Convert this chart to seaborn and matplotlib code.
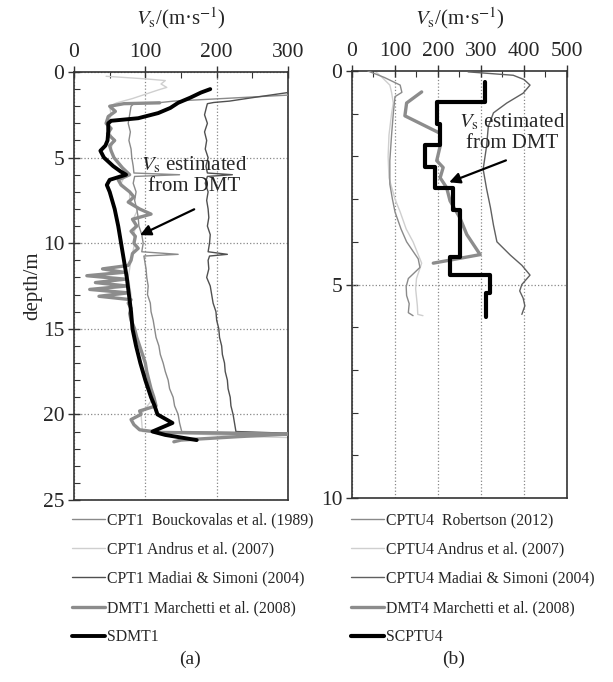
import numpy as np
import matplotlib
matplotlib.use("Agg")
import matplotlib.pyplot as plt
import seaborn as sns

# ---------------- data: panel (a) ----------------
b1_depth = [1.35, 1.7, 1.78, 1.85, 2.0, 2.5, 3.0, 3.5, 4.0, 4.5, 5.0, 5.5, 5.9, 6.0, 6.1, 6.5, 7.0,
            7.5, 8.0, 8.5, 9.0, 9.5, 10.0, 10.5, 10.65, 10.75, 11.0, 11.5, 12.0, 12.5, 13.0, 13.5,
            14.0, 14.5, 15.0, 15.5, 16.0, 16.5, 17.0, 17.5, 18.0, 18.5, 19.0, 19.5, 20.0, 20.5,
            21.0, 21.1, 21.2]
b1_vs = [300, 140, 122, 84, 80, 78, 76, 79, 77, 80, 81, 83, 84, 148, 85, 83, 87, 85, 88, 90, 91,
         95, 97, 95, 146, 98, 99, 101, 102, 104, 103, 107, 108, 111, 113, 115, 119, 121, 125, 128,
         132, 134, 139, 141, 146, 148, 151, 300, 300]

a1_depth = [0.25, 0.4, 0.5, 0.7, 0.9, 1.05, 1.3, 1.55, 1.8, 2.0, 2.5, 3.0, 3.5, 4.0, 4.5, 5.0,
            5.5, 6.0, 6.5, 7.0, 7.5, 8.0, 8.5, 9.0, 9.5, 10.0, 11.0, 12.0, 13.0, 14.0, 15.0, 16.0,
            17.0, 18.0, 19.0, 20.0, 21.0, 21.3, 21.35]
a1_vs = [45, 100, 128, 122, 130, 118, 100, 82, 60, 50, 52, 48, 50, 55, 52, 56, 66, 72, 66, 78,
         78, 90, 84, 86, 84, 85, 80, 76, 80, 80, 85, 92, 100, 105, 112, 94, 96, 250, 300]

m1_depth = [1.2, 1.5, 1.7, 1.78, 1.85, 2.0, 2.5, 3.0, 3.5, 4.0, 4.5, 5.0, 5.5, 5.9, 6.0, 6.1,
            6.5, 7.0, 7.5, 8.0, 8.5, 9.0, 9.5, 10.0, 10.5, 10.65, 10.75, 11.0, 11.5, 12.0, 12.5,
            13.0, 13.5, 14.0, 14.5, 15.0, 15.5, 16.0, 16.5, 17.0, 17.5, 18.0, 18.5, 19.0, 19.5,
            20.0, 20.5, 21.0, 21.1, 21.2]
m1_vs = [300, 250, 218, 196, 187, 186, 183, 187, 183, 186, 184, 188, 185, 187, 222, 187, 184,
         188, 186, 188, 189, 187, 191, 190, 188, 215, 190, 188, 189, 186, 191, 193, 195, 199,
         200, 203, 204, 207, 208, 211, 212, 215, 216, 219, 220, 223, 225, 227, 300, 300]

d1_depth = [1.8, 1.85, 2.0, 2.3, 2.6, 3.0, 3.3, 3.6, 4.0, 4.3, 4.6, 5.0, 5.3, 5.6, 6.0, 6.3, 6.6,
            7.0, 7.3, 7.6, 8.0, 8.3, 8.6, 9.0, 9.3, 9.6, 10.0, 10.3, 10.6, 11.0, 11.3, 11.5, 11.7,
            11.9, 12.1, 12.3, 12.5, 12.7, 12.9, 13.1, 13.3, 13.5, 13.8, 14.1, 14.5, 15.0, 15.5,
            16.0, 16.5, 17.0, 17.5, 18.0, 18.5, 19.0, 19.5, 19.8, 20.0, 20.3, 20.6, 20.9, 21.05,
            21.15, 21.3, 21.5, 21.6]
d1_vs = [120, 70, 50, 58, 48, 45, 52, 47, 57, 50, 52, 56, 62, 68, 78, 62, 66, 78, 84, 76, 92, 108,
         82, 88, 80, 86, 84, 90, 82, 80, 76, 40, 70, 18, 72, 30, 74, 22, 76, 35, 80, 76, 80, 78,
         80, 85, 88, 92, 96, 100, 102, 105, 108, 112, 115, 92, 94, 80, 84, 92, 120, 300, 230,
         150, 140]

s1_depth = [1.0, 1.2, 1.5, 1.8, 2.1, 2.4, 2.7, 2.85, 3.0, 3.5, 4.0, 4.3, 4.6, 5.0, 5.5, 5.8, 6.0,
            6.3, 6.6, 7.0, 8.0, 9.0, 10.0, 11.0, 12.0, 13.0, 14.0, 15.0, 16.0, 17.0, 18.0, 19.0,
            19.5, 20.0, 20.5, 21.0, 21.2, 21.5]
s1_vs = [191, 178, 163, 146, 135, 118, 90, 52, 48, 48, 47, 44, 37, 42, 55, 65, 73, 50, 46, 50, 57,
         62, 66, 70, 74, 77, 80, 82, 87, 93, 100, 108, 113, 117, 138, 110, 128, 172]

# ---------------- data: panel (b) ----------------
r4_depth = [0.0, 0.15, 0.33, 0.5, 0.6, 1.0, 1.5, 2.1, 2.65, 3.0, 3.3, 3.7, 4.0, 4.4, 4.6, 4.86,
            5.05, 5.26, 5.45, 5.66, 5.73]
r4_vs = [37, 75, 112, 116, 100, 96, 92, 88, 88, 94, 100, 114, 127, 154, 158, 131, 126, 127,
         133, 131, 142]

a4_depth = [0.0, 0.15, 0.33, 0.5, 0.75, 1.0, 1.5, 2.0, 2.5, 3.0, 3.3, 3.7, 4.0, 4.5, 4.86, 5.1,
            5.3, 5.5, 5.7, 5.73]
a4_vs = [53, 70, 88, 92, 96, 92, 86, 84, 86, 100, 112, 126, 142, 162, 150, 148, 150, 152, 153,
         165]

m4_depth = [0.02, 0.1, 0.2, 0.33, 0.52, 0.75, 0.98, 1.3, 1.76, 2.3, 2.76, 3.2, 3.61, 4.0, 4.31,
            4.55, 4.78, 5.0, 5.15, 5.32, 5.5, 5.7]
m4_vs = [270, 375, 400, 414, 398, 360, 329, 317, 313, 305, 313, 322, 329, 337, 368, 395, 414,
         395, 390, 398, 402, 395]

d4_depth = [0.49, 0.75, 1.05, 1.46, 1.76, 2.1, 2.26, 2.5, 2.73, 3.04, 3.44, 3.83, 4.3, 4.5]
d4_vs = [162, 127, 123, 205, 205, 197, 212, 205, 220, 228, 251, 267, 298, 189]

sc_top = [0.25, 0.72, 1.23, 1.73, 2.24, 2.75, 3.26, 4.35, 4.78, 5.21]
sc_bot = [0.72, 1.23, 1.73, 2.24, 2.75, 3.26, 4.35, 4.78, 5.21, 5.75]
sc_vs = [309, 197, 205, 170, 193, 236, 251, 228, 321, 312]

labels_a = ["CPT1  Bouckovalas et al. (1989)", "CPT1 Andrus et al. (2007)",
            "CPT1 Madiai & Simoni (2004)", "DMT1 Marchetti et al. (2008)", "SDMT1"]
labels_b = ["CPTU4  Robertson (2012)", "CPTU4 Andrus et al. (2007)",
            "CPTU4 Madiai & Simoni (2004)", "DMT4 Marchetti et al. (2008)", "SCPTU4"]

# ---------------- style ----------------
sns.set_theme(style="ticks")
plt.rcParams["font.family"] = ["Liberation Serif", "DejaVu Serif"]
plt.rcParams["mathtext.fontset"] = "stix"

fig = plt.figure(figsize=(6.13, 6.82), dpi=100)
ax1 = fig.add_axes([74 / 613, 1 - 500 / 682, 214 / 613, 428 / 682])
ax2 = fig.add_axes([352 / 613, 1 - 498 / 682, 215 / 613, 427 / 682])

def line(ax, x, y, color, lw, label, z):
    sns.lineplot(x=x, y=y, sort=False, estimator=None, ax=ax, color=color, lw=lw,
                 label=label, zorder=z, legend=False)

line(ax1, a1_vs, a1_depth, "#cfcfcf", 1.0, labels_a[1], 2)
line(ax1, b1_vs, b1_depth, "#8a8a8a", 1.0, labels_a[0], 3)
line(ax1, m1_vs, m1_depth, "#505050", 1.0, labels_a[2], 3)
line(ax1, d1_vs, d1_depth, "#8c8c8c", 2.4, labels_a[3], 4)
line(ax1, s1_vs, s1_depth, "black", 2.8, labels_a[4], 5)

step_d = np.ravel(np.column_stack([sc_top, sc_bot]))
step_v = np.repeat(sc_vs, 2)
line(ax2, a4_vs, a4_depth, "#cfcfcf", 1.0, labels_b[1], 2)
line(ax2, r4_vs, r4_depth, "#8a8a8a", 1.0, labels_b[0], 3)
line(ax2, m4_vs, m4_depth, "#606060", 1.0, labels_b[2], 3)
line(ax2, d4_vs, d4_depth, "#8c8c8c", 2.4, labels_b[3], 4)
line(ax2, step_v, step_d, "black", 3.0, labels_b[4], 5)

xlabel = r"$V_{\rm s}$/(m·s$^{-1}$)"
for ax, xmax, ymax, xt, yt in [(ax1, 300, 25, [0, 100, 200, 300], [0, 5, 10, 15, 20, 25]),
                               (ax2, 500, 10, [0, 100, 200, 300, 400, 500], [0, 5, 10])]:
    ax.set_xlim(0, xmax)
    ax.set_ylim(ymax, 0)
    ax.xaxis.tick_top()
    ax.set_xticks(xt)
    ax.set_yticks(yt)
    ax.set_xticks(np.arange(0, xmax + 1, 50), minor=True)
    ax.set_yticks(np.arange(0, ymax + 1, 1), minor=True)
    ax.tick_params(which="major", direction="inout", length=8, width=1, color="#333333",
                   labelsize=15.5, pad=3, top=True, bottom=False, left=True, right=False)
    ax.tick_params(which="minor", direction="in", length=4, width=0.8, color="#333333",
                   top=True, bottom=False, left=True, right=False)
    ax.grid(True, which="major", ls=":", color="#888888", lw=0.9)
    for sp in ax.spines.values():
        sp.set_color("#333333")
        sp.set_linewidth(1.2)
        sp.set_visible(True)
    ax.set_xlabel(xlabel, fontsize=15)
    ax.xaxis.set_label_position("top")
    ax.set_ylabel("")

ax1.xaxis.set_label_coords(0.5, 1 + (72 - 24) / 428)
ax2.xaxis.set_label_coords(0.5, 1 + (71 - 24) / 427)
ax2.grid(False, axis="y")
ax2.axhline(5, ls=":", color="#888888", lw=0.9, zorder=1)

ax1.set_ylabel("depth/m", fontsize=15, labelpad=0)

# annotations
ax1.text(168, 6.05, "$V_{\\rm s}$ estimated\nfrom DMT", ha="center", va="center", fontsize=15,
         linespacing=1.15, zorder=6)
ax1.annotate("", xy=(89, 9.6), xytext=(172, 7.95),
             arrowprops=dict(arrowstyle="-|>", color="black", lw=1.6, mutation_scale=16), zorder=6)
ax2.text(372, 1.44, "$V_{\\rm s}$ estimated\nfrom DMT", ha="center", va="center", fontsize=15,
         linespacing=1.15, zorder=6)
ax2.annotate("", xy=(220, 2.63), xytext=(364, 2.07),
             arrowprops=dict(arrowstyle="-|>", color="black", lw=1.6, mutation_scale=16), zorder=6)

# legends
for ax, labels, x0 in [(ax1, labels_a, 72 / 613), (ax2, labels_b, 351 / 613)]:
    h, l = ax.get_legend_handles_labels()
    order = [l.index(t) for t in labels]
    ax.legend([h[i] for i in order], [l[i] for i in order], loc="upper left",
              bbox_to_anchor=(x0, 1 - 512 / 682), bbox_transform=fig.transFigure,
              frameon=False, fontsize=11.3, handlelength=2.1, handletextpad=0.1,
              labelspacing=0.85, borderpad=0, borderaxespad=0)

fig.text(190 / 613, 1 - 659 / 682, "(a)", ha="center", va="center", fontsize=14)
fig.text(454 / 613, 1 - 659 / 682, "(b)", ha="center", va="center", fontsize=14)

fig.savefig("out.png", dpi=100)
